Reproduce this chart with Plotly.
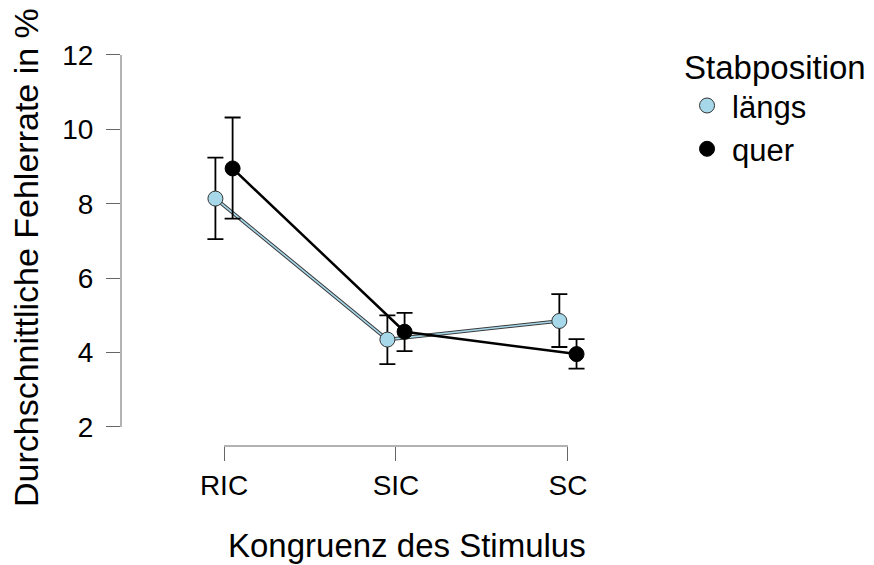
import plotly.graph_objects as go

# Mean error rate (%) per stimulus congruence, split by rod position, with CI bounds
categories = ["RIC", "SIC", "SC"]
laengs_mean = [8.14, 4.35, 4.85]
laengs_lo = [7.05, 3.69, 4.15]
laengs_hi = [9.24, 5.00, 5.57]
quer_mean = [8.95, 4.56, 3.96]
quer_lo = [7.60, 4.04, 3.57]
quer_hi = [10.32, 5.07, 4.36]
y_ticks = [2, 4, 6, 8, 10, 12]

FONT = "Liberation Sans, Arial, Helvetica, sans-serif"
LIGHT_BLUE = "#a6d8ea"
AXIS_GREY = "#666666"
DODGE = 0.05

idx = list(range(len(categories)))
x_laengs = [i - DODGE for i in idx]
x_quer = [i + DODGE for i in idx]


def err(mean, lo, hi):
    return dict(
        type="data",
        symmetric=False,
        array=[h - m for h, m in zip(hi, mean)],
        arrayminus=[m - l for m, l in zip(mean, lo)],
        color="black",
        thickness=1.8,
        width=8,
    )


fig = go.Figure()

# längs: light blue line with a dark rim
fig.add_trace(go.Scatter(x=x_laengs, y=laengs_mean, mode="lines",
                         line=dict(color="#3a3a3a", width=3.6),
                         showlegend=False, hoverinfo="skip"))
fig.add_trace(go.Scatter(x=x_laengs, y=laengs_mean, mode="lines",
                         line=dict(color=LIGHT_BLUE, width=1.6),
                         showlegend=False, hoverinfo="skip"))
fig.add_trace(go.Scatter(x=x_laengs, y=laengs_mean, mode="markers", name="längs",
                         error_y=err(laengs_mean, laengs_lo, laengs_hi),
                         marker=dict(color=LIGHT_BLUE, size=15,
                                     line=dict(color="#333333", width=1))))

# quer: black line and points
fig.add_trace(go.Scatter(x=x_quer, y=quer_mean, mode="lines",
                         line=dict(color="black", width=2.5),
                         showlegend=False, hoverinfo="skip"))
fig.add_trace(go.Scatter(x=x_quer, y=quer_mean, mode="markers", name="quer",
                         error_y=err(quer_mean, quer_lo, quer_hi),
                         marker=dict(color="black", size=15,
                                     line=dict(color="black", width=1))))

# Detached axis lines spanning only the tick range
fig.add_shape(type="line", xref="paper", yref="y", x0=0, x1=0,
              y0=y_ticks[0], y1=y_ticks[-1], line=dict(color=AXIS_GREY, width=1))
fig.add_shape(type="line", xref="x", yref="paper", x0=idx[0], x1=idx[-1],
              y0=0, y1=0, line=dict(color=AXIS_GREY, width=1))

# Axis titles
fig.add_annotation(text="Kongruenz des Stimulus", xref="paper", yref="paper",
                   x=0.551, y=-0.245, xanchor="center", yanchor="middle",
                   showarrow=False, font=dict(family=FONT, size=33, color="black"))
fig.add_annotation(text="Durchschnittliche Fehlerrate in %", xref="paper", yref="paper",
                   x=-0.183, y=0.463, xanchor="center", yanchor="middle", textangle=-90,
                   showarrow=False, font=dict(family=FONT, size=34, color="black"))

fig.update_layout(
    width=874, height=565,
    margin=dict(l=121, r=234, t=40, b=119, autoexpand=False),
    paper_bgcolor="white", plot_bgcolor="white",
    font=dict(family=FONT, color="black"),
    xaxis=dict(range=[-0.599, 2.419], tickmode="array", tickvals=idx, ticktext=categories,
               showgrid=False, zeroline=False, showline=False,
               ticks="outside", ticklen=14, tickwidth=1, tickcolor=AXIS_GREY,
               tickfont=dict(family=FONT, size=28, color="black")),
    yaxis=dict(range=[1.489, 12.403], tickmode="array", tickvals=y_ticks,
               showgrid=False, zeroline=False, showline=False,
               ticks="outside", ticklen=14, tickwidth=1, tickcolor=AXIS_GREY,
               ticklabelstandoff=7,
               tickfont=dict(family=FONT, size=28, color="black")),
    legend=dict(x=1.081, y=1.01, xanchor="left", yanchor="top",
                bgcolor="rgba(0,0,0,0)", itemwidth=40,
                title=dict(text="Stabposition", font=dict(family=FONT, size=33)),
                font=dict(family=FONT, size=31, color="black")),
    showlegend=True,
)

fig.write_html("out.html")
